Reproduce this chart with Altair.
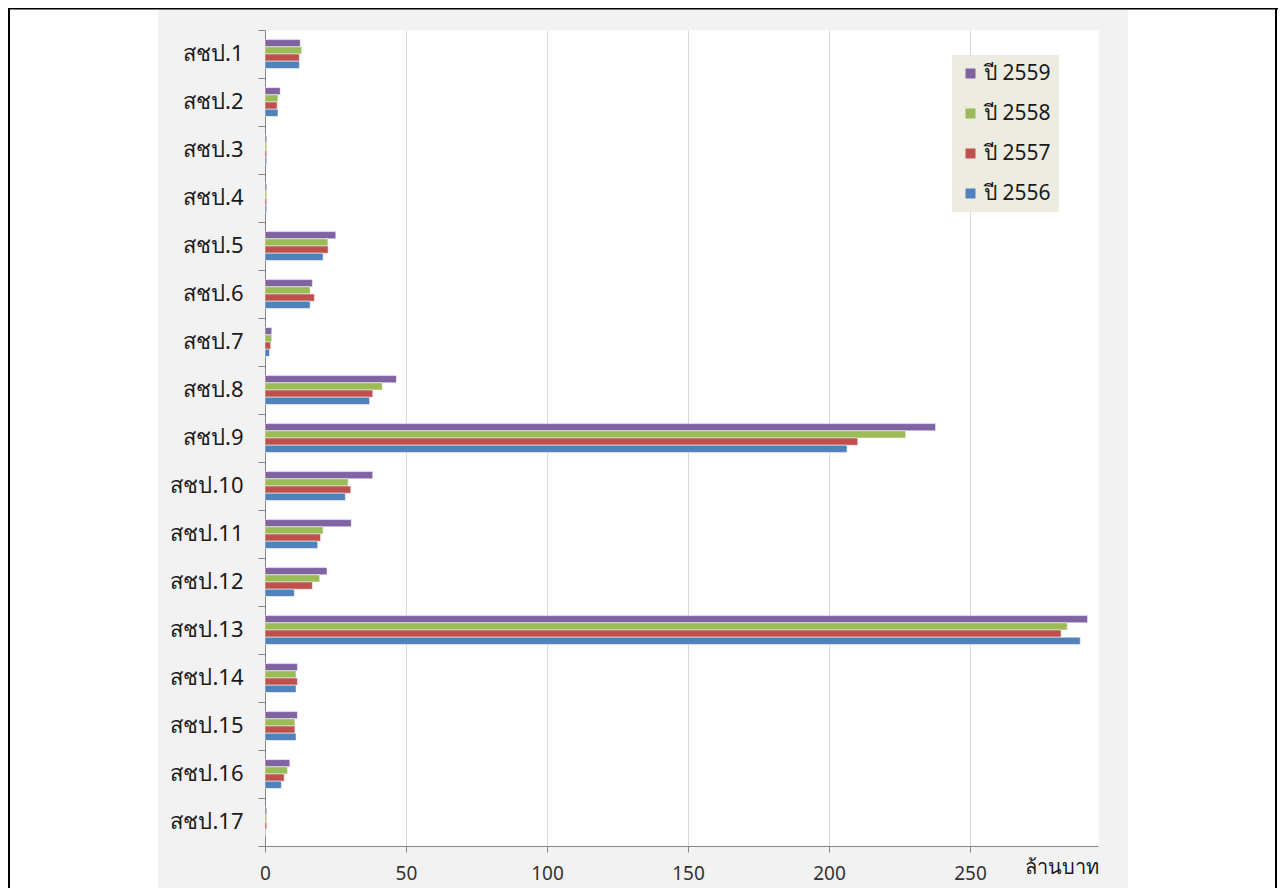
import altair as alt
import pandas as pd

# ---------------- data ----------------
categories = [f"สชป.{i}" for i in range(1, 18)]
series_names = ["ปี 2559", "ปี 2558", "ปี 2557", "ปี 2556"]
series_colors = ["#8064A2", "#9BBB59", "#C0504D", "#4F81BD"]

v2559 = [12.5, 5.4, 0.6, 0.6, 25.1, 16.8, 2.4, 46.6, 237.8, 38.2, 30.6, 22.0, 291.7, 11.5, 11.5, 8.8, 0.6]
v2558 = [13.0, 4.6, 0.6, 0.6, 22.3, 16.0, 2.4, 41.6, 227.2, 29.5, 20.6, 19.4, 284.5, 11.0, 10.6, 8.0, 0.6]
v2557 = [12.2, 4.3, 0.6, 0.6, 22.4, 17.5, 2.0, 38.2, 210.2, 30.4, 19.7, 16.8, 282.3, 11.5, 10.6, 6.8, 0.6]
v2556 = [12.2, 4.6, 0.6, 0.6, 20.6, 16.0, 1.6, 37.1, 206.4, 28.5, 18.7, 10.4, 289.1, 11.0, 11.0, 5.8, 0.0]

x_ticks = [0, 50, 100, 150, 200, 250]
x_max = 295.4
x_title = "ล้านบาท"

rows = []
for name, vals in zip(series_names, [v2559, v2558, v2557, v2556]):
    for c, v in zip(categories, vals):
        rows.append({"cat": c, "series": name, "value": v})
df = pd.DataFrame(rows)

# ---------------- layout ----------------
W, H = 833, 816
PAD_L, PAD_T, PAD_R, PAD_B = 257, 22, 180, 42
FONT = "Noto Sans"

one = pd.DataFrame({"k": [0]})


def prect(x0, x1, y0, y1, color):
    return alt.Chart(one).mark_rect(color=color).encode(
        x=alt.value(x0), x2=alt.value(x1), y=alt.value(y0), y2=alt.value(y1)
    )


# white page outside the grey chart box, and table borders
white_left = prect(-PAD_L, -107, -PAD_T, H + PAD_B, "white")
white_right = prect(863, W + PAD_R, -PAD_T, H + PAD_B, "white")
top_line = prect(-PAD_L, W + PAD_R, -PAD_T, -PAD_T + 1.5, "black")
left_line = prect(-PAD_L, -PAD_L + 2, -PAD_T, H + PAD_B, "black")
right_line = prect(1010, 1012, -PAD_T, H + PAD_B, "black")

# offset slots: one empty slot on each side keeps the 4 bars centred in the band
offset_domain = ["_top"] + series_names + ["_bottom"]

bars = alt.Chart(df).mark_bar(stroke="white", strokeWidth=0.5).encode(
    x=alt.X(
        "value:Q",
        scale=alt.Scale(domain=[0, x_max], nice=False, zero=True),
        axis=alt.Axis(
            values=x_ticks,
            title=x_title,
            titleX=W,
            titleY=27,
            titleAlign="right",
            titleAnchor="end",
            titleBaseline="alphabetic",
            titleFontSize=20,
            titleFontWeight="normal",
            titleColor="#1a1a1a",
            titleFont=FONT,
            labelFont=FONT,
            labelFontSize=19,
            labelColor="#333333",
            labelPadding=12,
            tickSize=6,
            tickColor="#868686",
            domainColor="#868686",
            grid=True,
            gridColor="#D9D9D9",
            labelFlush=False,
            labelOverlap=False,
        ),
    ),
    y=alt.Y(
        "cat:N",
        sort=categories,
        scale=alt.Scale(paddingInner=0, paddingOuter=0),
        axis=alt.Axis(
            title=None,
            bandPosition=1,
            tickExtra=True,
            tickSize=7,
            tickColor="#868686",
            domainColor="#868686",
            labelPadding=15,
            labelFont=FONT,
            labelFontSize=22,
            labelColor="#1a1a1a",
            labelOverlap=False,
            labelBound=False,
            grid=False,
        ),
    ),
    yOffset=alt.YOffset(
        "series:N",
        scale=alt.Scale(domain=offset_domain, paddingInner=0, paddingOuter=0.33),
    ),
    color=alt.Color(
        "series:N",
        scale=alt.Scale(domain=series_names, range=series_colors),
        legend=alt.Legend(
            title=None,
            orient="none",
            legendX=687,
            legendY=25,
            fillColor="#EEECE1",
            padding=8,
            symbolType="square",
            symbolSize=100,
            symbolStrokeWidth=0,
            labelFont=FONT,
            labelFontSize=21,
            labelColor="#1a1a1a",
            labelOffset=3,
            rowPadding=18,
        ),
    ),
)

chart = (
    alt.layer(white_left, white_right, top_line, left_line, right_line, bars)
    .properties(
        width=W,
        height=H,
        autosize=alt.AutoSizeParams(type="none"),
        padding={"left": PAD_L, "top": PAD_T, "right": PAD_R, "bottom": PAD_B},
    )
    .configure(background="#F2F2F2", font=FONT)
    .configure_view(fill="white", stroke="transparent")
)

chart.save("out.html", embed_options={"renderer": "svg", "actions": False})
